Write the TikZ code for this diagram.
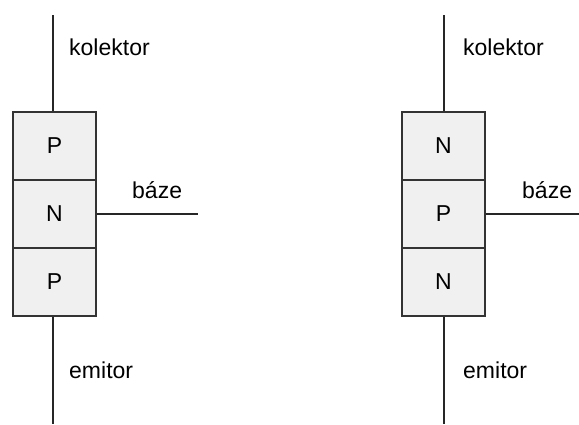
\documentclass[tikz,border=0pt]{standalone}
\usepackage{fontspec}
\setmainfont{Liberation Sans}
\begin{document}
\begin{tikzpicture}[x=1pt,y=-1pt,
  layer/.style={draw=black!80,line width=1.4pt,fill=black!6,minimum width=83pt,minimum height=68pt,inner sep=0pt,font=\fontsize{23}{23}\selectfont},
  lead/.style={draw=black!85,line width=1.4pt},
  lbl/.style={anchor=base west,inner sep=0pt,font=\fontsize{23}{23}\selectfont}]
\useasboundingbox (0,0) rectangle (579,424);
% left transistor (PNP)
\node[layer] (l1) at (54.5,146) {P};
\node[layer] (l2) at (54.5,214) {N};
\node[layer] (l3) at (54.5,282) {P};
\coordinate (lt) at (53,15);
\coordinate (lb) at (53,424);
\coordinate (lr) at (198,214);
\draw[lead] (lt) -- (l1.north -| lt);
\draw[lead] (l3.south -| lb) -- (lb);
\draw[lead] (l2.east) -- (lr);
\node[lbl] (lk) at (69,55) {kolektor};
\node[lbl] (lbz) at (132,198) {báze};
\node[lbl] (le) at (69,378) {emitor};
% right transistor (NPN)
\node[layer] (r1) at (443.5,146) {N};
\node[layer] (r2) at (443.5,214) {P};
\node[layer] (r3) at (443.5,282) {N};
\coordinate (rt) at (444,15);
\coordinate (rb) at (444,424);
\coordinate (rr) at (579,214);
\draw[lead] (rt) -- (r1.north -| rt);
\draw[lead] (r3.south -| rb) -- (rb);
\draw[lead] (r2.east) -- (rr);
\node[lbl] (rk) at (463,55) {kolektor};
\node[lbl] (rbz) at (522,198) {báze};
\node[lbl] (re) at (463,378) {emitor};
\end{tikzpicture}
\end{document}
